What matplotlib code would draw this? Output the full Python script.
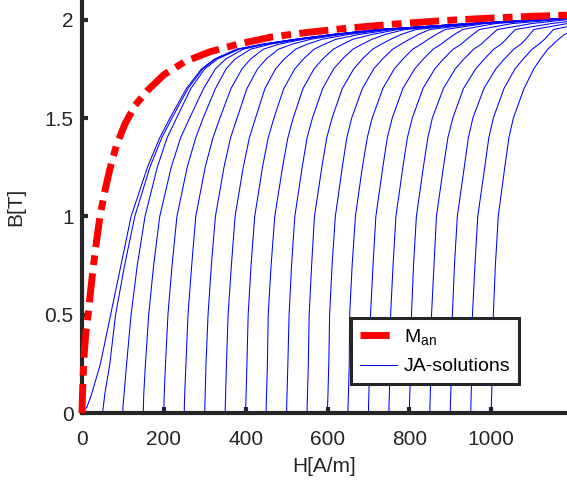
import numpy as np
import matplotlib.pyplot as plt

plt.rcParams['font.family'] = ['Liberation Sans', 'DejaVu Sans']
plt.rcParams['mathtext.default'] = 'regular'

# anhysteretic curve M_an
H_an = [0, 1, 3, 6, 10, 15, 21, 28, 36, 44, 55, 68, 84, 105, 130, 160, 200,
        250, 310, 380, 466, 550, 650, 760, 880, 1000, 1100, 1185]
B_an = [0, 0.08, 0.2, 0.32, 0.42, 0.5, 0.62, 0.75, 0.88, 1.0, 1.12, 1.24, 1.36,
        1.47, 1.565, 1.64, 1.72, 1.785, 1.835, 1.875, 1.913, 1.935, 1.957, 1.977,
        1.995, 2.008, 2.017, 2.023]

# JA solutions: H where each curve crosses a given B level
nan = np.nan
B_levels = [0, 0.03, 0.1, 0.25, 0.5, 0.75, 1.0, 1.25, 1.4, 1.5, 1.65, 1.75, 1.8,
            1.85, 1.875, 1.9, 1.925, 1.95, 1.98]
H_start = [0, 50, 100, 150, 200, 250, 300, 350, 400, 450, 500, 550, 600, 650, 700, 750, 800, 850, 900, 950, 1000]
H_b003 = [12, 52, 100, 150, 200, 250, 300, 350, 400, 450, 500, 550, 600, 650, 700, 750, 800, 850, 900, 950, 1000]
H_b010 = [24, 56, 103, 151, 201, 251, 301, 351, 401, 451, 501, 551, 601, 651, 701, 751, 801, 851, 901, 951, 1001]
H_b025 = [45, 68, 109, 155, 204, 254, 303, 353, 403, 453, 503, 553, 603, 653, 703, 753, 803, 853, 903, 953, 1003]
H_b050 = [70, 82, 120, 163, 210, 259, 308, 357, 406, 455, 506, 555, 605, 654, 705, 754, 805, 854, 905, 954, 1005]
H_b075 = [95, 104, 135, 175, 220, 268, 316, 365, 413, 462, 512, 561, 611, 660, 711, 760, 810, 860, 910, 960, 1010]
H_b100 = [120, 129, 154, 190, 232, 278, 326, 374, 422, 471, 520, 568, 619, 668, 718, 767, 817, 866, 917, 967, 1017]
H_b125 = [160, 166, 184, 218, 257, 301, 347, 394, 441, 490, 538, 586, 636, 685, 735, 784, 834, 883, 934, 984, 1033]
H_b140 = [190, 195, 208, 241, 278, 320, 363, 409, 455, 503, 550, 598, 647, 697, 746, 795, 845, 894, 944, 994, 1043]
H_b150 = [215, 220, 231, 263, 296, 337, 379, 424, 469, 516, 563, 611, 659, 709, 758, 807, 856, 906, 955, 1005, 1054]
H_b165 = [255, 259, 266, 297, 326, 364, 403, 447, 493, 540, 588, 636, 685, 735, 784, 833, 883, 932, 982, 1031, 1080]
H_b175 = [292, 295, 300, 326, 352, 391, 429, 473, 520, 567, 615, 664, 713, 763, 813, 862, 912, 962, 1011, 1058, 1104]
H_b180 = [324, 326, 331, 351, 374, 412, 450, 494, 541, 588, 636, 685, 734, 784, 834, 883, 933, 983, 1032, 1078, 1120]
H_b185 = [378, 380, 384, 394, 412, 443, 480, 522, 567, 614, 662, 710, 759, 808, 858, 907, 957, 1006, 1055, 1100, 1138]
H_b1875 = [440, 441, 443, 448, 460, 481, 513, 550, 592, 637, 684, 731, 779, 828, 877, 926, 975, 1024, 1072, 1116, 1151]
H_b190 = [520, 521, 522, 525, 530, 540, 558, 586, 620, 661, 708, 754, 800, 846, 893, 940, 988, 1036, 1084, 1130, 1164]
H_b1925 = [612, 613, 614, 616, 619, 624, 634, 652, 678, 709, 741, 780, 822, 865, 910, 955, 1001, 1047, 1094, 1141, 1179]
H_b195 = [725, 726, 727, 728, 730, 733, 738, 746, 758, 772, 789, 816, 850, 888, 930, 971, 1015, 1059, 1104, 1152, nan]
H_b198 = [945, 946, 947, 948, 949, 950, 951, 952, 954, 956, 959, 964, 971, 984, 1009, 1050, 1098, 1146, nan, nan, nan]
H_end = 1185
B_end = [2.008, 2.008, 2.008, 2.008, 2.008, 2.008, 2.008, 2.008, 2.008, 2.008, 2.008,
         2.008, 2.008, 2.008, 2.007, 2.004, 2.0, 1.99, 1.98, 1.964, 1.93]

H_table = [H_start, H_b003, H_b010, H_b025, H_b050, H_b075, H_b100, H_b125, H_b140,
           H_b150, H_b165, H_b175, H_b180, H_b185, H_b1875, H_b190, H_b1925, H_b195, H_b198]

dark = (0.15, 0.15, 0.15)

fig = plt.figure(figsize=(5.67, 4.86), dpi=100)
ax = fig.add_axes([0.1446, 0.150, 0.8554, 0.850])

for k in range(len(H_start)):
    hh = [row[k] for row in H_table] + [H_end]
    bb = list(B_levels) + [B_end[k]]
    pts = [(h, b) for h, b in zip(hh, bb) if not np.isnan(h)]
    ax.plot([p[0] for p in pts], [p[1] for p in pts], color='blue', lw=0.75,
            label='JA-solutions' if k == 0 else None, zorder=2)

ln, = ax.plot(H_an, B_an, color='red', lw=5, label='M$_{an}$', zorder=4, clip_on=False)
ln.set_dashes([4.2, 1.2, 1.4, 1.2])

ax.set_xlim(0, 1185)
ax.set_ylim(0, 2.1)
ax.set_xticks([0, 200, 400, 600, 800, 1000])
ax.set_yticks([0, 0.5, 1, 1.5, 2])
ax.set_yticklabels(['0', '0.5', '1', '1.5', '2'])

for s in ['top', 'right']:
    ax.spines[s].set_visible(False)
for s in ['left', 'bottom']:
    ax.spines[s].set_linewidth(3)
    ax.spines[s].set_color(dark)
ax.tick_params(direction='in', length=4, width=3, color=dark, labelcolor=dark,
               labelsize=15)
ax.tick_params(axis='x', pad=12)
ax.tick_params(axis='y', pad=6)

ax.set_xlabel('H[A/m]', fontsize=15, color=dark, labelpad=6)
ax.set_ylabel('B[T]', fontsize=15, color=dark, labelpad=14)

handles, labels = ax.get_legend_handles_labels()
leg = ax.legend(handles[::-1], labels[::-1], loc='lower right', bbox_to_anchor=(0.901, 0.070),
                borderaxespad=0, fancybox=False, fontsize=14, handlelength=1.9,
                handletextpad=0.35, labelspacing=0.55, borderpad=0.45, framealpha=1)
leg.get_frame().set_edgecolor(dark)
leg.get_frame().set_linewidth(2.2)
for t in leg.get_texts():
    t.set_color('black')

fig.savefig('out.png', dpi=100)
